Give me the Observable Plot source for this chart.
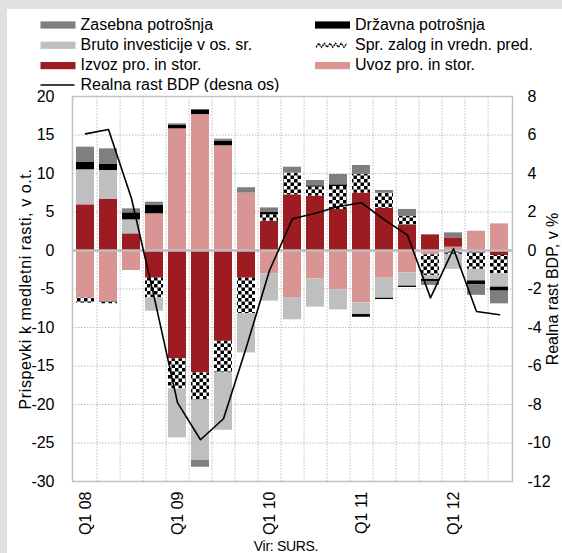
<!DOCTYPE html>
<html>
<head>
<meta charset="utf-8">
<script src="https://cdn.jsdelivr.net/npm/d3@7"></script>
<script src="https://cdn.jsdelivr.net/npm/@observablehq/plot@0.6"></script>
<style>
  html, body { margin: 0; padding: 0; }
  body { width: 562px; height: 553px; overflow: hidden; position: relative; background: #e0e0e0;
         font-family: "Liberation Sans", Arial, sans-serif; }
  #panel { position: absolute; left: 7px; top: 9px; right: 0; bottom: 0; background: #fff; }
  #legend { position: absolute; left: 0; top: 0; }
  #bars, #line { position: absolute; left: 0; top: 88px; }
  #caption { position: absolute; left: 0; width: 572px; top: 538px; text-align: center;
             font: 14px "Liberation Sans Narrow", "Liberation Sans", sans-serif; letter-spacing: -0.3px; color: #000; }
</style>
</head>
<body>
<div id="panel"></div>
<svg id="legend" width="562" height="92"></svg>
<div id="bars"></div>
<div id="line"></div>
<div id="caption">Vir: SURS.</div>
<script>
// ---------- data ----------
const quarters = ["Q1 08","Q2 08","Q3 08","Q4 08","Q1 09","Q2 09","Q3 09","Q4 09","Q1 10","Q2 10","Q3 10","Q4 10","Q1 11","Q2 11","Q3 11","Q4 11","Q1 12","Q2 12","Q3 12"];
const xTickLabels = ["Q1 08","Q1 09","Q1 10","Q1 11","Q1 12"];
const leftTicks = [-30,-25,-20,-15,-10,-5,0,5,10,15,20];
const rightTicks = [-12,-10,-8,-6,-4,-2,0,2,4,6,8];

const zasebna = [1.99, 2.03, 0.52, 0.43, 0.22, -0.9, 0.3, 0.7, 0.6, 0.78, 0.69, 1.34, 1.17, 0.35, 0.91, -0.52, 0.65, -1.39, -1.65];
const drzavna = [0.95, 0.78, 0.91, 1.08, 0.43, 0.6, 0.56, 0, 0.3, 0, 0.17, 0.22, -0.35, -0.17, -0.17, -0.26, 0, -0.48, -0.52];
const bruto   = [4.55, 3.72, 1.82, -1.73, -6.36, -7.8, -7.45, -5.1, -3.55, -2.81, -3.68, -2.6, -1.52, -2.6, -1.73, -0.52, -1.95, -1.5, -1.73];
const zaloge  = [-0.65, -0.3, 0, -2.55, -3.9, -3.55, -4.1, -4.6, 0.82, 2.81, 1.17, 2.99, 2.42, 1.95, 1.17, -2.68, -0.5, -2.25, -2.38];
const izvoz   = [5.93, 6.67, 2.16, -3.6, -14.07, -15.9, -11.8, -3.6, 3.81, 7.23, 7.06, 5.32, 7.45, 5.5, 3.25, 2.03, 1.21, -0.2, -0.65];
const uvoz    = [-6.19, -6.62, -2.6, 4.76, 15.8, 17.66, 13.6, 7.45, -3.03, -6.19, -3.68, -5.11, -6.8, -3.6, -2.9, -0.56, 0.43, 2.51, 3.46];
const rastBDP = [6.06, 6.29, 2.7, -2.5, -7.9, -9.83, -8.74, -5.0, -1.04, 1.65, 1.94, 2.29, 2.48, 1.59, 0.8, -2.46, 0.09, -3.17, -3.34];

const nZasebna = "Zasebna potrošnja";
const nDrzavna = "Državna potrošnja";
const nBruto = "Bruto investicije v os. sr.";
const nZaloge = "Spr. zalog in vredn. pred.";
const nIzvoz = "Izvoz pro. in stor.";
const nUvoz = "Uvoz pro. in stor.";
const nBDP = "Realna rast BDP (desna os)";
const leftTitle = "Prispevki k medletni rasti, v o.t.";
const rightTitle = "Realna rast BDP, v %";

// stacking order from zero outwards
const stackSeries = [
  {name: nUvoz, values: uvoz, color: "#d99593"},
  {name: nIzvoz, values: izvoz, color: "#9c1c21"},
  {name: nZaloge, values: zaloge, color: "url(#chk)"},
  {name: nBruto, values: bruto, color: "#bfbfbf"},
  {name: nDrzavna, values: drzavna, color: "#000000"},
  {name: nZasebna, values: zasebna, color: "#7f7f7f"}
];
const data = [];
stackSeries.forEach(s => quarters.forEach((q, i) => data.push({q, s: s.name, v: s.values[i]})));

// ---------- layout ----------
const FONT = '"Liberation Sans", Arial, sans-serif';
const W = 562, H = 450, mL = 72, mR = 50, mT = 8, mB = 57;
const step = (W - mL - mR) / quarters.length;
const xOpts = {domain: quarters, paddingInner: 0.22, paddingOuter: 0.11, axis: null};
const grid = {stroke: "#bdbdbd", strokeWidth: 1, strokeDasharray: "1.5,1.5"};

const bars = Plot.plot({
  width: W, height: H, marginLeft: mL, marginRight: mR, marginTop: mT, marginBottom: mB,
  style: {fontFamily: FONT, fontSize: "16px", color: "#000", background: "transparent", overflow: "visible"},
  x: xOpts,
  y: {domain: [-30, 20], axis: null},
  color: {domain: stackSeries.map(s => s.name), range: stackSeries.map(s => s.color)},
  marks: [
    Plot.ruleY(leftTicks.filter(t => t !== 0 && t !== -30 && t !== 20), {y: d => d, ...grid}),
    Plot.ruleX(quarters.slice(0, -1), {x: d => d, dx: step / 2, ...grid}),
    Plot.barY(data, Plot.stackY({x: "q", y: "v", fill: "s"})),
    Plot.ruleY([0], {stroke: "#bcbcbc", strokeWidth: 2.5}),
    Plot.frame({stroke: "#c2c2c2", strokeWidth: 1.5}),
    Plot.axisY(leftTicks, {anchor: "left", tickSize: 0, tickPadding: 18, tickFormat: d => String(d),
      label: leftTitle, labelAnchor: "center", labelOffset: 53, labelArrow: "none"}),
    Plot.axisX(xTickLabels, {tickSize: 0, tickPadding: 10, tickRotate: -90, label: null})
  ]
});
d3.select(bars).insert("defs", ":first-child").html(
  '<pattern id="chk" width="7" height="7" patternUnits="userSpaceOnUse">' +
  '<rect width="7" height="7" fill="#fff"/>' +
  '<rect x="0" y="0" width="3.5" height="3.5" fill="#000"/>' +
  '<rect x="3.5" y="3.5" width="3.5" height="3.5" fill="#000"/></pattern>');
// widen the rotated left title slightly, as in the reference
d3.select(bars).selectAll("text").filter(function() { return this.textContent === leftTitle; })
  .attr("letter-spacing", "0.6px");
document.getElementById("bars").appendChild(bars);

const line = Plot.plot({
  width: W, height: H, marginLeft: mL, marginRight: mR, marginTop: mT, marginBottom: mB,
  style: {fontFamily: FONT, fontSize: "16px", color: "#000", background: "transparent", overflow: "visible"},
  x: xOpts,
  y: {domain: [-12, 8], axis: null},
  marks: [
    Plot.line(quarters, {x: d => d, y: (d, i) => rastBDP[i], stroke: "#000", strokeWidth: 1.6}),
    Plot.axisY(rightTicks, {anchor: "right", tickSize: 0, tickPadding: 15, tickFormat: d => String(d),
      label: rightTitle, labelAnchor: "center", labelOffset: 45, labelArrow: "none"})
  ]
});
document.getElementById("line").appendChild(line);

// ---------- legend ----------
const legendItems = [
  {name: nZasebna, kind: "rect", color: "#7f7f7f", col: 0, row: 0},
  {name: nDrzavna, kind: "rect", color: "#000", col: 1, row: 0},
  {name: nBruto, kind: "rect", color: "#bfbfbf", col: 0, row: 1},
  {name: nZaloge, kind: "zigzag", color: "#000", col: 1, row: 1},
  {name: nIzvoz, kind: "rect", color: "#9c1c21", col: 0, row: 2},
  {name: nUvoz, kind: "rect", color: "#d99593", col: 1, row: 2},
  {name: nBDP, kind: "line", color: "#000", col: 0, row: 3}
];
const lg = d3.select("#legend");
const colX = [40.5, 315], rowY = [25, 45.3, 65.6, 85];
legendItems.forEach(it => {
  const x = colX[it.col], y = rowY[it.row];
  if (it.kind === "rect") {
    lg.append("rect").attr("x", x).attr("y", y - 3.6).attr("width", 35).attr("height", 7.2).attr("fill", it.color);
  } else if (it.kind === "line") {
    lg.append("line").attr("x1", x).attr("x2", x + 34).attr("y1", y).attr("y2", y).attr("stroke", it.color).attr("stroke-width", 1.4);
  } else {
    const pts = d3.range(0, 12).map(k => [x + 1 + k * 2.8, k % 2 ? y - 2 : y + 2]);
    lg.append("polyline").attr("points", pts.map(p => p.join(",")).join(" "))
      .attr("fill", "none").attr("stroke", "#000").attr("stroke-width", 1.3).attr("stroke-dasharray", "2,0.8");
  }
  lg.append("text").attr("x", x + 40).attr("y", y + 4.5).attr("font-family", FONT).attr("font-size", 16)
    .attr("fill", "#000").text(it.name);
});
</script>
</body>
</html>
